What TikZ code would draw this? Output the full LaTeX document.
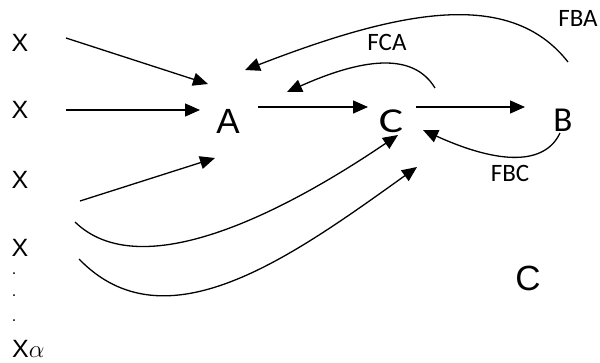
\documentclass[tikz,border=0pt]{standalone}
\usepackage{fontspec}
\setmainfont{Liberation Sans}
\newfontfamily\calibri{Carlito}
\usetikzlibrary{arrows.meta}
\tikzstyle{inLabel}=[inner sep = 0pt, font = \fontsize{25}{30}\selectfont]
\tikzstyle{dotLabel}=[inner sep = 0pt, font = \fontsize{16}{16}\selectfont]
\tikzstyle{bigLabel}=[inner sep = 0pt, font = \fontsize{35}{42}\selectfont]
\tikzstyle{calLabel}=[inner sep = 0pt, font = \calibri\fontsize{35}{42}\selectfont]
\tikzstyle{flowLabel}=[inner sep = 0pt, font = \calibri\fontsize{25}{30}\selectfont]
\tikzstyle{flow}=[line width = 1.3pt, -{Triangle[length = 15pt, width = 13pt]}]

\begin{document}
\begin{tikzpicture}[x = 1pt, y = -1pt]
\useasboundingbox (0,0) rectangle (600,362);
% inputs
\node[inLabel] (x1) at (20,43) {X};
\node[inLabel] (x2) at (20,110) {X};
\node[inLabel] (x3) at (20,180) {X};
\node[inLabel] (x4) at (20,248) {X};
\node[dotLabel] (d1) at (14,274) {.};
\node[dotLabel] (d2) at (14,296) {.};
\node[dotLabel] (d3) at (14,321) {.};
\node[inLabel, anchor = west] (xa) at (12,349) {X$\alpha$};
% stages
\node[bigLabel] (A) at (228,121) {A};
\node[calLabel, xscale = 1.3] (C) at (391,121) {C};
\node[calLabel] (B) at (563,120) {B};
\node[bigLabel] (Cbot) at (528,278) {C};
\node[flowLabel] (fca) at (387,42) {FCA};
\node[flowLabel] (fba) at (578,18) {FBA};
\node[flowLabel] (fbc) at (510,173) {FBC};
% end points
\coordinate (s1) at (66,38);   \coordinate (t1) at (208,84);
\coordinate (s2) at (66,110);  \coordinate (t2) at (200,110);
\coordinate (s3) at (80,201);  \coordinate (t3) at (215,158);
\coordinate (s4) at (75,222);  \coordinate (t4) at (398,135);
\coordinate (s5) at (79,259);  \coordinate (t5) at (417,167);
\coordinate (ac1) at (258,107); \coordinate (ac2) at (368,107);
\coordinate (cb1) at (416,107); \coordinate (cb2) at (525,107);
\coordinate (ca1) at (435,88);  \coordinate (ca2) at (287,92);
\coordinate (ba1) at (568,62);  \coordinate (ba2) at (245,70);
\coordinate (bc1) at (560,133); \coordinate (bc2) at (423,130);
% arrows
\draw[flow] (s1) -- (t1);
\draw[flow] (s2) -- (t2);
\draw[flow] (s3) -- (t3);
\draw[flow] (s4) .. controls (140,285) and (280,215) .. (t4);
\draw[flow] (s5) .. controls (165,348) and (290,258) .. (t5);
\draw[flow] (ac1) -- (ac2);
\draw[flow] (cb1) -- (cb2);
\draw[flow] (ca1) .. controls (415,55) and (370,55) .. (ca2);
\draw[flow] (ba1) .. controls (510,-12) and (400,10) .. (ba2);
\draw[flow] (bc1) .. controls (545,165) and (500,165) .. (bc2);
\end{tikzpicture}
\end{document}
